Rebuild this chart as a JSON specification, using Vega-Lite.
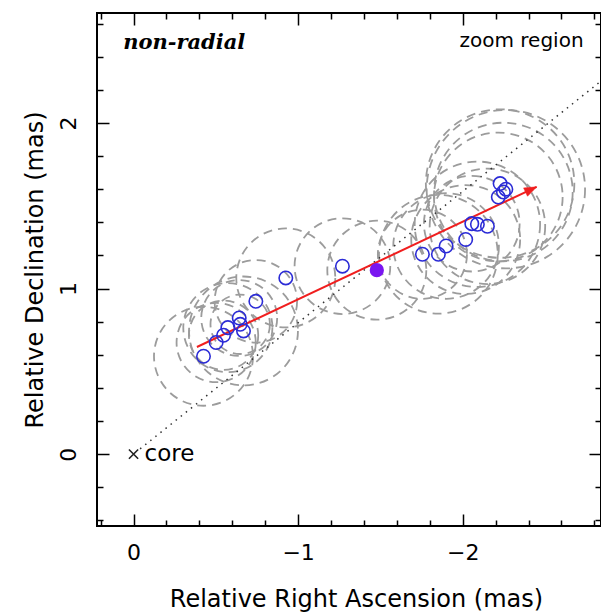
{
  "$schema": "https://vega.github.io/schema/vega-lite/v6.json",
  "width": 504,
  "height": 513,
  "autosize": "none",
  "padding": {"left": 97, "top": 13, "right": 0, "bottom": 87},
  "background": "white",
  "config": {
    "view": {"stroke": "black", "strokeWidth": 2},
    "axis": {"grid": false, "domain": false, "tickColor": "black", "tickWidth": 1.5, "labelColor": "black", "titleColor": "black", "labelFont": "DejaVu Sans", "titleFont": "DejaVu Sans", "titleFontWeight": "normal"}
  },
  "datasets": {
    "comps": [
      {"ra": -0.425, "dec": 0.591, "radius_mas": 0.30, "kind": "open"},
      {"ra": -0.502, "dec": 0.674, "radius_mas": 0.24, "kind": "open"},
      {"ra": -0.547, "dec": 0.718, "radius_mas": 0.21, "kind": "open"},
      {"ra": -0.573, "dec": 0.764, "radius_mas": 0.27, "kind": "open"},
      {"ra": -0.642, "dec": 0.822, "radius_mas": 0.23, "kind": "open"},
      {"ra": -0.648, "dec": 0.784, "radius_mas": 0.18, "kind": "open"},
      {"ra": -0.668, "dec": 0.744, "radius_mas": 0.33, "kind": "open"},
      {"ra": -0.743, "dec": 0.923, "radius_mas": 0.25, "kind": "open"},
      {"ra": -0.925, "dec": 1.064, "radius_mas": 0.30, "kind": "open"},
      {"ra": -1.269, "dec": 1.135, "radius_mas": 0.29, "kind": "open"},
      {"ra": -1.478, "dec": 1.111, "radius_mas": 0.30, "kind": "filled"},
      {"ra": -1.755, "dec": 1.207, "radius_mas": 0.27, "kind": "open"},
      {"ra": -1.852, "dec": 1.207, "radius_mas": 0.36, "kind": "open"},
      {"ra": -1.899, "dec": 1.257, "radius_mas": 0.32, "kind": "open"},
      {"ra": -2.018, "dec": 1.296, "radius_mas": 0.33, "kind": "open"},
      {"ra": -2.055, "dec": 1.392, "radius_mas": 0.29, "kind": "open"},
      {"ra": -2.089, "dec": 1.388, "radius_mas": 0.38, "kind": "open"},
      {"ra": -2.150, "dec": 1.376, "radius_mas": 0.35, "kind": "open"},
      {"ra": -2.216, "dec": 1.553, "radius_mas": 0.39, "kind": "open"},
      {"ra": -2.227, "dec": 1.634, "radius_mas": 0.45, "kind": "open"},
      {"ra": -2.247, "dec": 1.583, "radius_mas": 0.42, "kind": "open"},
      {"ra": -2.262, "dec": 1.600, "radius_mas": 0.48, "kind": "open"}
    ],
    "dotline": [
      {"ra": -0.04, "dec": 0.032},
      {"ra": -2.84, "dec": 2.253}
    ],
    "arrow": [
      {"ra": -0.385, "dec": 0.647},
      {"ra": -2.449, "dec": 1.614}
    ],
    "arrowhead": [
      {"ra": -2.449, "dec": 1.614}
    ],
    "core": [
      {"ra": 0, "dec": 0, "label": "core"}
    ],
    "tag": [
      {"ra": 0.063, "dec": 2.481, "label": "non-radial"}
    ],
    "region": [
      {"ra": -2.734, "dec": 2.493, "label": "zoom region"}
    ]
  },
  "resolve": {"axis": {"x": "independent", "y": "independent"}},
  "layer": [
    {
      "data": {"name": "comps"},
      "mark": {"type": "point", "shape": "circle", "filled": false, "stroke": "#9c9c9c", "strokeWidth": 1.8, "strokeDash": [9, 6], "opacity": 1, "clip": true},
      "encoding": {
        "x": {"field": "ra", "type": "quantitative", "scale": {"domain": [0.222, -2.84], "nice": false, "zero": false},
              "axis": {"orient": "bottom", "values": [0, -1, -2], "tickSize": -12, "labelFontSize": 22, "labelPadding": 28, "title": "Relative Right Ascension (mas)", "titleFontSize": 24, "titlePadding": 24, "titleX": 259, "titleAlign": "center"}},
        "y": {"field": "dec", "type": "quantitative", "scale": {"domain": [-0.434, 2.664], "nice": false, "zero": false},
              "axis": {"orient": "left", "values": [0, 1, 2], "tickSize": -12, "labelFontSize": 22, "labelAngle": -90, "labelAlign": "center", "labelBaseline": "bottom", "labelPadding": 29, "title": "Relative Declination (mas)", "titleFontSize": 24, "titlePadding": 10}},
        "size": {"field": "radius_mas", "type": "quantitative", "scale": {"type": "pow", "exponent": 2, "domain": [0, 1], "range": [0, 108900]}, "legend": null}
      }
    },
    {
      "data": {"name": "dotline"},
      "mark": {"type": "line", "stroke": "#333333", "strokeWidth": 1.5, "strokeDash": [1.5, 5], "clip": true},
      "encoding": {
        "x": {"field": "ra", "type": "quantitative", "scale": {"domain": [0.222, -2.84], "nice": false, "zero": false},
              "axis": {"orient": "bottom", "values": [0.2, -0.2, -0.4, -0.6, -0.8, -1.2, -1.4, -1.6, -1.8, -2.2, -2.4, -2.6, -2.8], "tickSize": -6, "labels": false, "title": null}},
        "y": {"field": "dec", "type": "quantitative", "scale": {"domain": [-0.434, 2.664], "nice": false, "zero": false},
              "axis": {"orient": "left", "values": [-0.4, -0.2, 0.2, 0.4, 0.6, 0.8, 1.2, 1.4, 1.6, 1.8, 2.2, 2.4, 2.6], "tickSize": -6, "labels": false, "title": null}}
      }
    },
    {
      "data": {"name": "arrow"},
      "mark": {"type": "line", "stroke": "#f01e1e", "strokeWidth": 2},
      "encoding": {
        "x": {"field": "ra", "type": "quantitative", "scale": {"domain": [0.222, -2.84], "nice": false, "zero": false},
              "axis": {"orient": "top", "values": [0, -1, -2], "tickSize": -12, "labels": false, "title": null}},
        "y": {"field": "dec", "type": "quantitative", "scale": {"domain": [-0.434, 2.664], "nice": false, "zero": false},
              "axis": {"orient": "right", "values": [0, 1, 2], "tickSize": -12, "labels": false, "title": null}}
      }
    },
    {
      "data": {"name": "arrowhead"},
      "mark": {"type": "point", "shape": "M0,0L-2,-0.75L-2,0.75Z", "filled": true, "fill": "#f01e1e", "stroke": "#f01e1e", "strokeWidth": 0.5, "opacity": 1, "size": 150, "angle": -25.2},
      "encoding": {
        "x": {"field": "ra", "type": "quantitative", "scale": {"domain": [0.222, -2.84], "nice": false, "zero": false},
              "axis": {"orient": "top", "values": [0.2, -0.2, -0.4, -0.6, -0.8, -1.2, -1.4, -1.6, -1.8, -2.2, -2.4, -2.6, -2.8], "tickSize": -6, "labels": false, "title": null}},
        "y": {"field": "dec", "type": "quantitative", "scale": {"domain": [-0.434, 2.664], "nice": false, "zero": false},
              "axis": {"orient": "right", "values": [-0.4, -0.2, 0.2, 0.4, 0.6, 0.8, 1.2, 1.4, 1.6, 1.8, 2.2, 2.4, 2.6], "tickSize": -6, "labels": false, "title": null}}
      }
    },
    {
      "data": {"name": "comps"},
      "transform": [{"filter": "datum.kind === 'open'"}],
      "mark": {"type": "point", "shape": "circle", "filled": false, "stroke": "#2b2bd6", "strokeWidth": 1.6, "opacity": 1, "size": 180},
      "encoding": {
        "x": {"field": "ra", "type": "quantitative", "scale": {"domain": [0.222, -2.84], "nice": false, "zero": false}, "axis": null},
        "y": {"field": "dec", "type": "quantitative", "scale": {"domain": [-0.434, 2.664], "nice": false, "zero": false}, "axis": null}
      }
    },
    {
      "data": {"name": "comps"},
      "transform": [{"filter": "datum.kind === 'filled'"}],
      "mark": {"type": "point", "shape": "circle", "filled": true, "fill": "#7a16f0", "stroke": "#7a16f0", "opacity": 1, "size": 150},
      "encoding": {
        "x": {"field": "ra", "type": "quantitative", "scale": {"domain": [0.222, -2.84], "nice": false, "zero": false}, "axis": null},
        "y": {"field": "dec", "type": "quantitative", "scale": {"domain": [-0.434, 2.664], "nice": false, "zero": false}, "axis": null}
      }
    },
    {
      "data": {"name": "core"},
      "mark": {"type": "point", "shape": "M-1,-1L1,1M1,-1L-1,1", "filled": false, "stroke": "#222222", "strokeWidth": 1.6, "opacity": 1, "size": 85},
      "encoding": {
        "x": {"field": "ra", "type": "quantitative", "scale": {"domain": [0.222, -2.84], "nice": false, "zero": false}, "axis": null},
        "y": {"field": "dec", "type": "quantitative", "scale": {"domain": [-0.434, 2.664], "nice": false, "zero": false}, "axis": null}
      }
    },
    {
      "data": {"name": "core"},
      "mark": {"type": "text", "align": "left", "baseline": "middle", "dx": 11, "dy": 0, "font": "DejaVu Sans", "fontSize": 23, "fill": "black"},
      "encoding": {
        "x": {"field": "ra", "type": "quantitative", "scale": {"domain": [0.222, -2.84], "nice": false, "zero": false}, "axis": null},
        "y": {"field": "dec", "type": "quantitative", "scale": {"domain": [-0.434, 2.664], "nice": false, "zero": false}, "axis": null},
        "text": {"field": "label"}
      }
    },
    {
      "data": {"name": "tag"},
      "mark": {"type": "text", "align": "left", "baseline": "middle", "font": "DejaVu Serif", "fontStyle": "italic", "fontWeight": "bold", "fontSize": 21, "fill": "black"},
      "encoding": {
        "x": {"field": "ra", "type": "quantitative", "scale": {"domain": [0.222, -2.84], "nice": false, "zero": false}, "axis": null},
        "y": {"field": "dec", "type": "quantitative", "scale": {"domain": [-0.434, 2.664], "nice": false, "zero": false}, "axis": null},
        "text": {"field": "label"}
      }
    },
    {
      "data": {"name": "region"},
      "mark": {"type": "text", "align": "right", "baseline": "middle", "font": "DejaVu Sans", "fontSize": 20, "fill": "black"},
      "encoding": {
        "x": {"field": "ra", "type": "quantitative", "scale": {"domain": [0.222, -2.84], "nice": false, "zero": false}, "axis": null},
        "y": {"field": "dec", "type": "quantitative", "scale": {"domain": [-0.434, 2.664], "nice": false, "zero": false}, "axis": null},
        "text": {"field": "label"}
      }
    }
  ]
}
